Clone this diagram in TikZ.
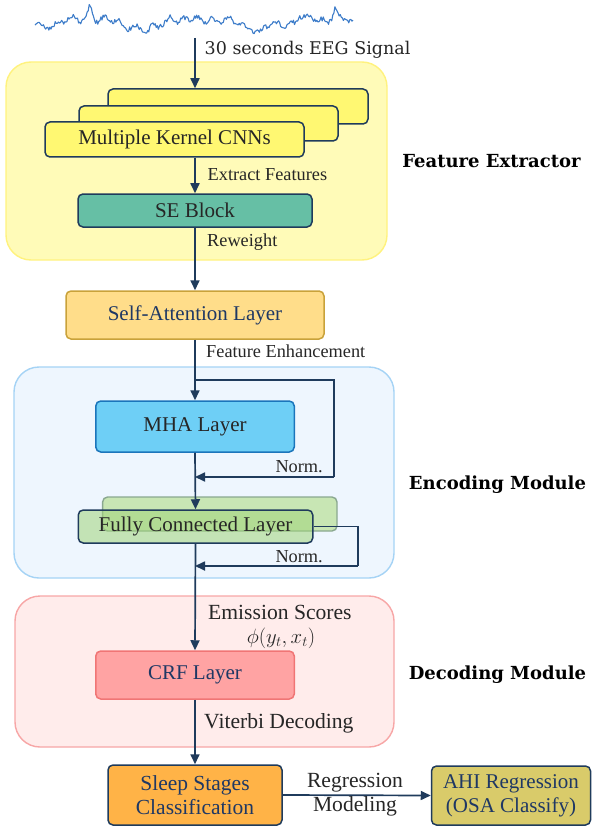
\documentclass[tikz,border=0pt]{standalone}
\usepackage{fontspec}
\setmainfont{Liberation Serif}
\newfontfamily\geo{DejaVu Serif}
\usetikzlibrary{arrows.meta}
\definecolor{navy}{HTML}{1F3B5C}
\definecolor{txtblue}{HTML}{1F3864}
\definecolor{feFill}{HTML}{FFFBB8}
\definecolor{feDraw}{HTML}{FFF27E}
\definecolor{cnnFill}{HTML}{FFF872}
\definecolor{seFill}{HTML}{66BFA5}
\definecolor{saFill}{HTML}{FFDD8A}
\definecolor{saDraw}{HTML}{C9A23A}
\definecolor{encFill}{HTML}{EEF6FE}
\definecolor{encDraw}{HTML}{A5D3F5}
\definecolor{mhaFill}{HTML}{6ECFF6}
\definecolor{mhaDraw}{HTML}{1B75BB}
\definecolor{fcFill}{HTML}{A0D47A}
\definecolor{fcBack}{HTML}{C8E6B4}
\definecolor{fcBackDraw}{HTML}{8AA890}
\definecolor{decFill}{HTML}{FFECEB}
\definecolor{decDraw}{HTML}{F7A6A6}
\definecolor{crfFill}{HTML}{FFA3A3}
\definecolor{crfDraw}{HTML}{F07575}
\definecolor{sleepFill}{HTML}{FFB347}
\definecolor{ahiFill}{HTML}{D9CB6A}
\definecolor{eegBlue}{HTML}{3D7CC9}
\tikzset{
  region/.style={rounded corners=25pt, line width=1.4pt, inner sep=0pt},
  blk/.style={draw=navy, line width=1.5pt, rounded corners=5pt, inner sep=0pt, align=center, font=\fontsize{21}{24}\selectfont},
  lbl/.style={inner sep=0pt, font=\fontsize{18.3}{21}\selectfont, text=black!85},
  biglbl/.style={inner sep=0pt, font=\fontsize{21.6}{24}\selectfont, text=black!85, align=center},
  sidelbl/.style={inner sep=0pt, font=\geo\bfseries\fontsize{18}{20}\selectfont},
  arr/.style={draw=navy, line width=1.7pt, -{Triangle[length=10pt,width=9pt]}},
  ln/.style={draw=navy, line width=1.7pt}
}
\begin{document}
\begin{tikzpicture}[x=1pt,y=-1pt]
\useasboundingbox (0,0) rectangle (592,829);
% EEG signal
\pgfmathsetseed{11}
\draw[eegBlue, line width=1.1pt, line join=round]
  plot[domain=35:353, samples=300]
  (\x, {23 + 2.4*rand + 3*sin(\x*9) + 2.2*sin(\x*23+40) + 2.5*sin(\x*3.1)
     - 17/(1+((\x-90)/2.5)^2) - 12/(1+((\x-171)/3)^2) - 15/(1+((\x-335)/3)^2)
     + 10/(1+((\x-148)/4)^2) + 7/(1+((\x-260)/5)^2) - 6/(1+((\x-210)/3)^2)
     - 6/(1+((\x-300)/3)^2)});
\coordinate (sig) at (195,38);

% Feature extractor region
\node[region, draw=feDraw, fill=feFill, minimum width=381, minimum height=198] (fe) at (196.5,161) {};
\node[blk, fill=cnnFill, minimum width=260, minimum height=35] (cnn3) at (238,106.5) {};
\node[blk, fill=cnnFill, minimum width=259, minimum height=35] (cnn2) at (208.5,123.5) {};
\node[blk, fill=cnnFill, minimum width=259, minimum height=35, text=black!85] (cnn1) at (174.5,139.5) {Multiple Kernel CNNs};
\node[blk, fill=seFill, minimum width=234, minimum height=33, text=black!85] (se) at (195,210.5) {SE Block};
\node[sidelbl, anchor=center] (felbl) at (491.5,161) {Feature Extractor};

\node[lbl, anchor=west] (l30) at (204.5,50) {\geo\fontsize{17.5}{20}\selectfont 30 seconds EEG Signal};
\node[lbl, anchor=west] (lext) at (207.5,175) {Extract Features};
\node[lbl, anchor=west] (lrew) at (207,242) {Reweight};

% Self attention
\node[blk, draw=saDraw, fill=saFill, minimum width=258, minimum height=48, text=txtblue] (sa) at (195,315) {Self-Attention Layer};
\node[lbl, anchor=west] (lfe) at (206,351) {Feature Enhancement};

% Encoding module
\node[region, draw=encDraw, fill=encFill, minimum width=380, minimum height=211] (enc) at (204,472.5) {};
\node[blk, draw=mhaDraw, fill=mhaFill, minimum width=198.5, minimum height=51, text=black!85] (mha) at (195,426.5) {MHA Layer};
\node[draw=fcBackDraw, line width=1.4pt, rounded corners=5pt, fill=fcBack, minimum width=234.4, minimum height=34, inner sep=0pt] (fcb) at (219.8,514) {};
\node[blk, fill=fcFill, fill opacity=0.55, text opacity=1, minimum width=234.5, minimum height=33, text=black!85] (fc) at (195.5,526.5) {Fully Connected Layer};
\node[sidelbl, anchor=center] (enclbl) at (497.5,485) {Encoding Module};
\node[lbl, anchor=east] (n1) at (323,467) {Norm.};
\node[lbl, anchor=east] (n2) at (323,557) {Norm.};
\coordinate (r1s) at (195,380);
\coordinate (r1a) at (334,380);
\coordinate (r1b) at (334,477);
\coordinate (r1e) at (195,477);
\coordinate (r2a) at (357.7,526.5);
\coordinate (r2b) at (357.7,566);
\coordinate (r2e) at (195,566);

% Decoding module
\node[region, draw=decDraw, fill=decFill, minimum width=379, minimum height=151] (dec) at (204.5,671.5) {};
\node[blk, draw=crfDraw, fill=crfFill, minimum width=198.5, minimum height=48, text=txtblue] (crf) at (195,675) {CRF Layer};
\node[sidelbl, anchor=center] (declbl) at (497.5,675) {Decoding Module};
\node[biglbl, anchor=west] (lem) at (208,612) {Emission Scores};
\node[biglbl, anchor=center] (lphi) at (281,638) {$\phi(y_t,x_t)$};
\node[biglbl, anchor=west] (lvit) at (204,723) {Viterbi Decoding};

% Output boxes
\node[blk, fill=sleepFill, minimum width=174, minimum height=60, text=txtblue, font=\fontsize{21.5}{24}\selectfont] (sleep) at (195,795) {Sleep Stages\\Classification};
\node[blk, fill=ahiFill, minimum width=159, minimum height=59, text=txtblue, font=\fontsize{21}{24}\selectfont] (ahi) at (511,795.5) {AHI Regression\\(OSA Classify)};
\node[biglbl] (lreg) at (355,795) {Regression\\[0pt]Modeling};

% Connectors
\draw[arr] (sig) -- (sig |- cnn3.north);
\draw[arr] (se.north |- cnn1.south) -- (se.north);
\draw[arr] (se.south) -- (sa.north);
\draw[arr] (sa.south) -- (mha.north);
\draw[ln] (r1s) -- (r1a) -- (r1b);
\draw[arr] (r1b) -- (r1e);
\draw[arr] (mha.south) -- (fc.north);
\draw[ln] (fc.east) -- (r2a) -- (r2b);
\draw[arr] (r2b) -- (r2e);
\draw[arr] (fc.south) -- (crf.north);
\draw[arr] (crf.south) -- (sleep.north);
\draw[arr] (sleep.east) -- (ahi.west);
\end{tikzpicture}
\end{document}
